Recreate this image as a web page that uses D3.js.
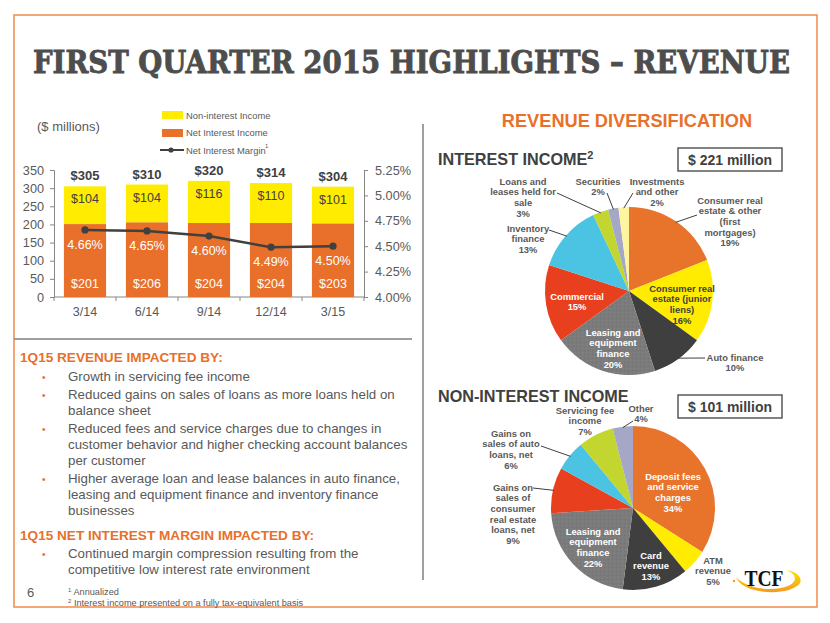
<!DOCTYPE html>
<html><head><meta charset="utf-8">
<script src="https://cdn.jsdelivr.net/npm/d3@7"></script>
<style>body{margin:0;background:#fff} svg text{font-family:"Liberation Sans",Arial,sans-serif}</style>
</head><body><svg id="c" width="830" height="623"></svg>
<script>
// ---------- DATA ----------
const quarters = ["3/14","6/14","9/14","12/14","3/15"];
const netInterestIncome = [201,206,204,204,203];
const nonInterestIncome = [104,104,116,110,101];
const totalRevenue = [305,310,320,314,304];
const netInterestMargin = [4.66,4.65,4.60,4.49,4.50];
const leftTicks = [0,50,100,150,200,250,300,350];
const rightTicks = [4.00,4.25,4.50,4.75,5.00,5.25];

const interestLabels = [
  ["Consumer real","estate & other","(first","mortgages)","19%"],
  ["Consumer real","estate (junior","liens)","16%"],
  ["Auto finance","10%"],
  ["Leasing  and","equipment","finance","20%"],
  ["Commercial","15%"],
  ["Inventory","finance","13%"],
  ["Loans and","leases held for","sale","3%"],
  ["Securities","2%"],
  ["Investments","and other","2%"]
];
const interestPct = [19,16,10,20,15,13,3,2,2];

const nonInterestLabels = [
  ["Deposit fees","and service","charges","34%"],
  ["ATM","revenue","5%"],
  ["Card","revenue","13%"],
  ["Leasing and","equipment","finance","22%"],
  ["Gains on","sales of","consumer","real estate","loans, net","9%"],
  ["Gains on","sales of auto","loans, net","6%"],
  ["Servicing fee","income","7%"],
  ["Other","4%"]
];
const nonInterestPct = [34,5,13,22,9,6,7,4];

const bulletsRevenue = [
  ["Growth in servicing fee income"],
  ["Reduced gains on sales of loans as more loans held on","balance sheet"],
  ["Reduced fees and service charges due to changes in","customer behavior and higher checking account balances","per customer"],
  ["Higher average loan and lease balances in auto finance,","leasing and equipment finance and inventory finance","businesses"]
];
const bulletsMargin = [
  ["Continued margin compression resulting from the","competitive low interest rate environment"]
];

// ---------- STYLE / LAYOUT ----------
const ORANGE = "#E8702A", YELLOW = "#FFEC00", DARK = "#404040", GRAY = "#595959";
const sliceColors1 = ["#E8732A","#FFEC00","#3F3F3F","#7B7B7B","#E8401F","#4AC4E2","#C3D52F","#A4A7C6","#FFF59E"];
const sliceColors2 = ["#E8732A","#FFEC00","#3F3F3F","#7B7B7B","#E8401F","#4AC4E2","#C3D52F","#A4A7C6"];

const svg = d3.select("#c");

// frame
svg.append("rect").attr("x",14).attr("y",15).attr("width",803).attr("height",592)
  .attr("fill","none").attr("stroke","#F08A4B").attr("stroke-width",1.5);

// title (scaled horizontally to the reference width)
const title = svg.append("text").attr("x",0).attr("y",0)
  .style("font-family","'DejaVu Serif',serif").style("font-weight","bold")
  .style("font-size","31px").attr("fill","#4D4D4D").attr("stroke","#4D4D4D").attr("stroke-width",0.9)
  .text("FIRST QUARTER 2015 HIGHLIGHTS \u2013 REVENUE");
const tw = title.node().getComputedTextLength();
title.attr("transform",`translate(33,73) scale(${757/tw},1)`);

// separators
svg.append("line").attr("x1",14).attr("x2",412).attr("y1",339).attr("y2",339).attr("stroke","#7F7F7F").attr("stroke-width",1.5);
svg.append("line").attr("x1",423).attr("x2",423).attr("y1",124).attr("y2",580).attr("stroke","#7F7F7F").attr("stroke-width",1.5);

// ---------- BAR CHART ----------
const x = d3.scaleBand().domain(quarters).range([54,364]).paddingInner(0.32).paddingOuter(0.16);
const y = d3.scaleLinear().domain([0,350]).range([297,170]);
const y2 = d3.scaleLinear().domain([4.0,5.25]).range([297,170]);

const axisColor = "#868686";
const gL = svg.append("g").attr("transform","translate(54,0)")
  .call(d3.axisLeft(y).tickValues(leftTicks).tickSize(4).tickPadding(6));
const gR = svg.append("g").attr("transform","translate(364,0)")
  .call(d3.axisRight(y2).tickValues(rightTicks).tickSize(4).tickPadding(7).tickFormat(d=>d.toFixed(2)+"%"));
[gL,gR].forEach(g=>{
  g.select(".domain").attr("stroke",axisColor);
  g.selectAll(".tick line").attr("stroke",axisColor);
  g.selectAll(".tick text").attr("fill",GRAY).style("font-size","12.7px").style("font-family","'Liberation Sans',Arial,sans-serif");
});

// x axis with boundary ticks
const gX = svg.append("g");
gX.append("line").attr("x1",54).attr("x2",364).attr("y1",y(0)).attr("y2",y(0)).attr("stroke",axisColor);
const bounds = [54].concat(quarters.map(q=>x(q)+x.bandwidth()+x.step()*x.paddingInner()/2).slice(0,-1)).concat([364]);
gX.selectAll("line.t").data(bounds).join("line").attr("class","t")
  .attr("x1",d=>d).attr("x2",d=>d).attr("y1",y(0)).attr("y2",y(0)+4).attr("stroke",axisColor);
gX.selectAll("text").data(quarters).join("text")
  .attr("x",d=>x(d)+x.bandwidth()/2).attr("y",316).attr("text-anchor","middle")
  .attr("fill",GRAY).style("font-size","12.5px").text(d=>d);

// bars
const bars = svg.append("g");
quarters.forEach((q,i)=>{
  bars.append("rect").attr("x",x(q)).attr("width",x.bandwidth())
    .attr("y",y(netInterestIncome[i])).attr("height",y(0)-y(netInterestIncome[i])).attr("fill","#E8702A");
  bars.append("rect").attr("x",x(q)).attr("width",x.bandwidth())
    .attr("y",y(netInterestIncome[i]+nonInterestIncome[i])).attr("height",y(netInterestIncome[i])-y(netInterestIncome[i]+nonInterestIncome[i])).attr("fill",YELLOW);
  const cx = x(q)+x.bandwidth()/2;
  bars.append("text").attr("x",cx).attr("y",288).attr("text-anchor","middle").attr("fill","#fff")
    .style("font-size","12.5px").text("$"+netInterestIncome[i]);
  bars.append("text").attr("x",cx).attr("y",y(totalRevenue[i])+17).attr("text-anchor","middle").attr("fill",DARK)
    .style("font-size","12.5px").text("$"+nonInterestIncome[i]);
  bars.append("text").attr("x",cx).attr("y",y(totalRevenue[i])-6).attr("text-anchor","middle").attr("fill",DARK)
    .style("font-size","13px").style("font-weight","bold").text("$"+totalRevenue[i]);
  bars.append("text").attr("x",cx).attr("y",y2(netInterestMargin[i])+19).attr("text-anchor","middle").attr("fill","#fff")
    .style("font-size","12.5px").text(netInterestMargin[i].toFixed(2)+"%");
});
// margin line
const line = d3.line().x((d,i)=>x(quarters[i])+x.bandwidth()/2).y(d=>y2(d));
svg.append("path").datum(netInterestMargin).attr("d",line).attr("fill","none").attr("stroke",DARK).attr("stroke-width",2.5);
svg.selectAll("circle.m").data(netInterestMargin).join("circle").attr("class","m")
  .attr("cx",(d,i)=>x(quarters[i])+x.bandwidth()/2).attr("cy",d=>y2(d)).attr("r",3.6).attr("fill",DARK);

// legend
const lg = svg.append("g");
lg.append("rect").attr("x",162).attr("y",111).attr("width",21).attr("height",8).attr("fill",YELLOW);
lg.append("text").attr("x",186).attr("y",118.5).attr("fill",GRAY).style("font-size","9.4px").text("Non-interest Income");
lg.append("rect").attr("x",162).attr("y",129).attr("width",21).attr("height",8).attr("fill","#E8702A");
lg.append("text").attr("x",186).attr("y",136).attr("fill",GRAY).style("font-size","9.4px").text("Net Interest Income");
lg.append("line").attr("x1",160).attr("x2",184).attr("y1",150).attr("y2",150).attr("stroke",DARK).attr("stroke-width",2);
lg.append("circle").attr("cx",171).attr("cy",150).attr("r",2.6).attr("fill",DARK);
lg.append("text").attr("x",186).attr("y",153.5).attr("fill",GRAY).style("font-size","9.4px").text("Net Interest Margin");
lg.append("text").attr("x",265).attr("y",148).attr("fill",GRAY).style("font-size","6px").text("1");

svg.append("text").attr("x",37).attr("y",131).attr("fill",GRAY).style("font-size","13px").text("($ millions)");

// ---------- LEFT TEXT ----------
function bulletBlock(heading, hy, items, startY){
  svg.append("text").attr("x",20).attr("y",hy).attr("fill",ORANGE).style("font-weight","bold").style("font-size","13.6px").text(heading);
  let yy = startY;
  items.forEach(lines=>{
    svg.append("text").attr("x",42).attr("y",yy).attr("fill",ORANGE).style("font-size","10px").text("\u2022");
    lines.forEach((l,j)=>{
      svg.append("text").attr("x",68).attr("y",yy).attr("fill",GRAY).style("font-size","13.3px").text(l);
      yy += 16;
    });
    yy += 2;
  });
}
bulletBlock("1Q15 REVENUE IMPACTED BY:", 362, bulletsRevenue, 381);
bulletBlock("1Q15 NET INTEREST MARGIN IMPACTED BY:", 540, bulletsMargin, 558);

svg.append("text").attr("x",27).attr("y",597).attr("fill",GRAY).style("font-size","13px").text("6");
svg.append("text").attr("x",68).attr("y",595).attr("fill",GRAY).style("font-size","9.2px")
  .html('<tspan font-size="6" dy="-3">1</tspan><tspan dy="3"> Annualized</tspan>');
svg.append("text").attr("x",68).attr("y",606).attr("fill",GRAY).style("font-size","9.2px")
  .html('<tspan font-size="6" dy="-3">2</tspan><tspan dy="3"> Interest income presented on a fully tax-equivalent basis</tspan>');

// ---------- RIGHT: PIES ----------
svg.append("text").attr("x",627).attr("y",127).attr("text-anchor","middle").attr("fill",ORANGE)
  .style("font-weight","bold").style("font-size","18.2px").text("REVENUE DIVERSIFICATION");
svg.append("text").attr("x",438).attr("y",165).attr("fill",DARK).style("font-weight","bold").style("font-size","16.2px")
  .html('INTEREST INCOME<tspan font-size="11" dy="-6">2</tspan>');
svg.append("text").attr("x",438).attr("y",402).attr("fill",DARK).style("font-weight","bold").style("font-size","16.2px")
  .text("NON-INTEREST INCOME");

function box(yTop, label){
  svg.append("rect").attr("x",678).attr("y",yTop).attr("width",104).attr("height",23).attr("fill","#fff").attr("stroke","#595959").attr("stroke-width",1.5);
  svg.append("text").attr("x",730).attr("y",yTop+16.5).attr("text-anchor","middle").attr("fill",DARK)
    .style("font-weight","bold").style("font-size","14px").text(label);
}
box(148, "$ 221 million");
box(395, "$ 101 million");

// dotted texture for gray slices
const defs = svg.append("defs");
const pat = defs.append("pattern").attr("id","dots").attr("patternUnits","userSpaceOnUse").attr("width",4).attr("height",4);
pat.append("rect").attr("width",4).attr("height",4).attr("fill","#7B7B7B");
pat.append("rect").attr("x",1).attr("y",1).attr("width",1).attr("height",1).attr("fill","#858585");
pat.append("rect").attr("x",3).attr("y",3).attr("width",1).attr("height",1).attr("fill","#727272");

// label layout: offsets from pie centre (first baseline), text colour, leader start
const layout1 = [
  {dx:101,dy:-87.5,c:GRAY,ls:[68,-76]},
  {dx:53,dy:0.5,c:DARK},
  {dx:106,dy:69.5,c:GRAY,ls:[76,67]},
  {dx:-16,dy:44.5,c:"#fff"},
  {dx:-52,dy:8.5,c:"#fff"},
  {dx:-101,dy:-59.5,c:GRAY,ls:[-80,-61]},
  {dx:-106,dy:-106.5,c:GRAY,ls:[-72,-98]},
  {dx:-31,dy:-106.5,c:GRAY,ls:[-22,-98]},
  {dx:28,dy:-106.5,c:GRAY,ls:[4,-98]}
];
const layout2 = [
  {dx:40,dy:-28.5,c:"#fff"},
  {dx:80,dy:55.5,c:GRAY},
  {dx:18,dy:50.5,c:"#fff"},
  {dx:-40,dy:26.5,c:"#fff"},
  {dx:-120,dy:-17.5,c:GRAY,ls:[-100,-20]},
  {dx:-122,dy:-71.5,c:GRAY,ls:[-92,-62]},
  {dx:-48,dy:-94.5,c:GRAY},
  {dx:8,dy:-96.5,c:GRAY,ls:[0,-87]}
];

function drawPie(cx, cy, r, values, labels, colors, layout){
  const g = svg.append("g").attr("transform",`translate(${cx},${cy})`);
  const arcs = d3.pie().sort(null)(values);
  const arc = d3.arc().innerRadius(0).outerRadius(r);
  g.selectAll("path").data(arcs).join("path").attr("d",arc)
    .attr("fill",(d,i)=> i===3 ? "url(#dots)" : colors[i]);
  arcs.forEach((a,i)=>{
    const L = layout[i];
    if(L.ls){
      const m = (a.startAngle+a.endAngle)/2;
      g.append("line").attr("x1",L.ls[0]).attr("y1",L.ls[1])
        .attr("x2",(r-1)*Math.sin(m)).attr("y2",-(r-1)*Math.cos(m))
        .attr("stroke","#404040").attr("stroke-width",1);
    }
    const t = g.append("text").attr("text-anchor","middle").attr("fill",L.c)
      .style("font-weight","bold").style("font-size","9.4px");
    labels[i].forEach((ln,j)=>{
      t.append("tspan").attr("x",L.dx).attr("y",L.dy+j*10.7).text(ln);
    });
  });
}
drawPie(629, 291, 84, interestPct, interestLabels, sliceColors1, layout1);
drawPie(633, 508, 82, nonInterestPct, nonInterestLabels, sliceColors2, layout2);

// ---------- LOGO ----------
const logoGrad = defs.append("linearGradient").attr("id","lg").attr("x1","0").attr("x2","0").attr("y1","0").attr("y2","1");
logoGrad.append("stop").attr("offset","0").attr("stop-color","#FFE400");
logoGrad.append("stop").attr("offset","1").attr("stop-color","#F39A1E");
svg.append("path").attr("d","M736,577 C742,595 790,597 800,583 C803,577 795,571 786,570 C796,574 798,580 790,585 C776,592 748,590 736,577 Z")
  .attr("fill","url(#lg)");
svg.append("circle").attr("cx",734).attr("cy",581).attr("r",1.2).attr("fill","#F39A1E");
svg.append("text").attr("x",764).attr("y",586).attr("text-anchor","middle").attr("fill","#111")
  .style("font-family","'Liberation Serif',serif").style("font-weight","bold").style("font-size","24px")
  .attr("textLength",39).attr("lengthAdjust","spacingAndGlyphs").text("TCF");
</script></body></html>
